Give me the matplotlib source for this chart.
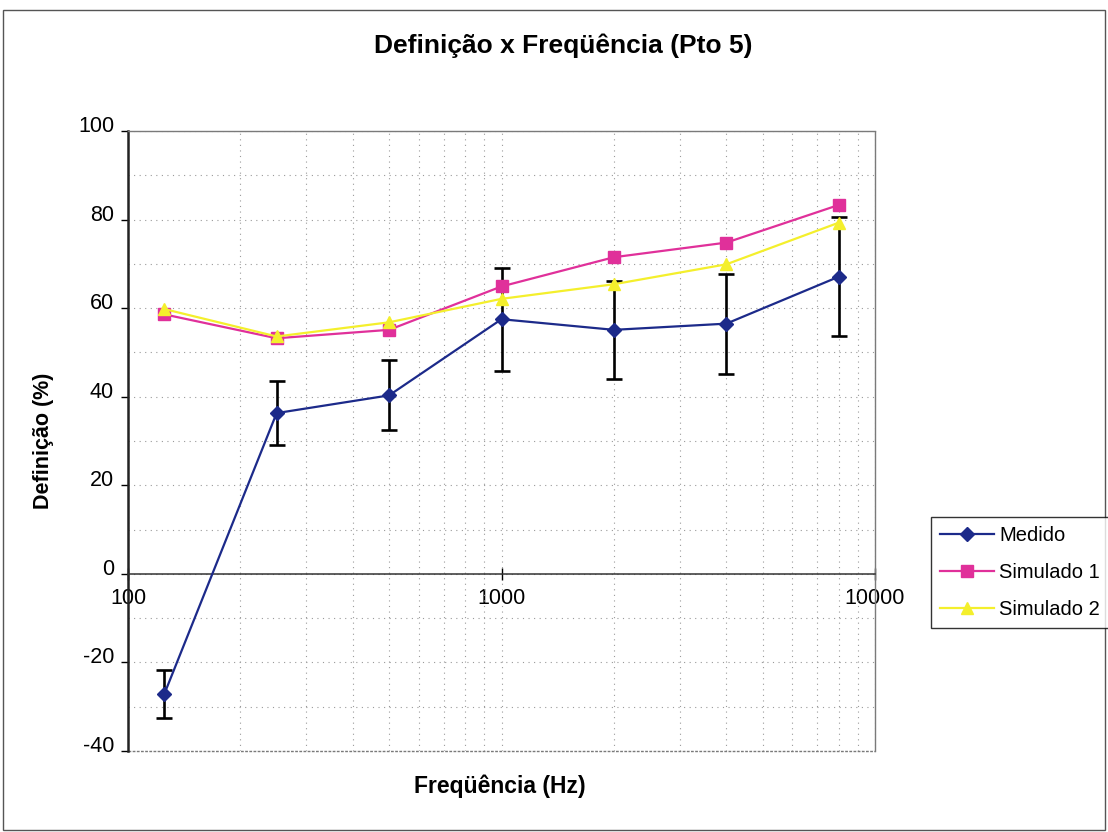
import matplotlib
matplotlib.use("Agg")
import matplotlib.pyplot as plt
from matplotlib.ticker import FixedLocator, MultipleLocator, LogLocator, FuncFormatter, NullFormatter
from matplotlib.patches import Rectangle
from matplotlib.transforms import ScaledTranslation

plt.rcParams['font.family'] = ['Liberation Sans', 'DejaVu Sans']
plt.rcParams['axes.unicode_minus'] = False

# Octave-band centre frequencies (Hz)
freqs = [125, 250, 500, 1000, 2000, 4000, 8000]

# Definition D50 (%) per band
medido = [-27.2, 36.3, 40.3, 57.5, 55.1, 56.5, 67.1]
medido_err = [5.4, 7.2, 7.9, 11.6, 11.1, 11.3, 13.5]
simulado1 = [58.6, 53.2, 55.1, 64.9, 71.5, 74.8, 83.3]
simulado2 = [59.8, 53.6, 56.8, 62.1, 65.4, 69.9, 79.3]

series_names = ["Medido", "Simulado 1", "Simulado 2"]
x_ticks = [100, 1000, 10000]
y_ticks = [-40, -20, 0, 20, 40, 60, 80, 100]

W, H = 1108, 832
fig = plt.figure(figsize=(W / 100, H / 100), dpi=100)
ax = fig.add_axes([128 / W, 1 - 751 / H, 747 / W, 620 / H])

c_med = "#1c2a8a"
c_s1 = "#e0309a"
c_s2 = "#f4ef2c"

ax.errorbar(freqs, medido, yerr=medido_err, fmt="none", ecolor="black",
            elinewidth=1.9, capsize=6, capthick=1.9, zorder=3)
l1, = ax.plot(freqs, medido, color=c_med, lw=1.6, marker="D", ms=7,
              mfc=c_med, mec=c_med, zorder=4, label=series_names[0])
l2, = ax.plot(freqs, simulado1, color=c_s1, lw=1.6, marker="s", ms=8,
              mfc=c_s1, mec=c_s1, zorder=5, label=series_names[1])
l3, = ax.plot(freqs, simulado2, color=c_s2, lw=1.6, marker="^", ms=9,
              mfc=c_s2, mec=c_s2, zorder=6, label=series_names[2])

ax.set_xscale("log")
ax.set_xlim(100, 10000)
ax.set_ylim(-40, 100)

ax.xaxis.set_major_locator(FixedLocator(x_ticks))
ax.xaxis.set_major_formatter(FuncFormatter(lambda v, p: f"{int(round(v))}"))
ax.xaxis.set_minor_locator(LogLocator(base=10, subs=range(2, 10)))
ax.xaxis.set_minor_formatter(NullFormatter())
ax.yaxis.set_major_locator(FixedLocator(y_ticks))
ax.yaxis.set_minor_locator(MultipleLocator(10))

ax.tick_params(axis="x", which="major", direction="inout", length=9,
               width=1.0, pad=6, labelsize=15.5)
ax.tick_params(axis="y", which="major", direction="out", length=5,
               width=1.0, pad=5, labelsize=15.5)
ax.tick_params(which="minor", length=0)

# value labels sit slightly above their tick marks
lift = ScaledTranslation(0, 5 / 72, fig.dpi_scale_trans)
for lbl in ax.get_yticklabels():
    lbl.set_transform(lbl.get_transform() + lift)

ax.grid(True, which="both", color="#9a9a9a", lw=0.8, ls=(0, (1, 4)), zorder=0)

# Category axis crosses at zero; frame drawn as grey dotted border
ax.spines["bottom"].set_position(("data", 0))
ax.spines["bottom"].set_linewidth(1.1)
ax.spines["bottom"].set_color("#333333")
ax.spines["left"].set_linewidth(1.8)
ax.spines["left"].set_color("#222222")
for s in ("top", "right"):
    ax.spines[s].set_color("#7a7a7a")
    ax.spines[s].set_linewidth(1.0)
    ax.spines[s].set_linestyle((0, (2, 1)))
ax.plot([0, 1], [0, 0], transform=ax.transAxes, color="#7a7a7a", lw=1.0,
        ls=(0, (2, 1)), clip_on=False, zorder=1)

fig.text(44 / W, 1 - 441 / H, "Definição (%)", rotation=90, ha="center",
         va="center", fontsize=15.5, fontweight="bold")
fig.text(500 / W, 1 - 786 / H, "Freqüência (Hz)", ha="center", va="center",
         fontsize=16.5, fontweight="bold")
fig.text(563 / W, 1 - 46 / H, "Definição x Freqüência (Pto 5)", ha="center",
         va="center", fontsize=19, fontweight="bold")

leg = fig.legend(handles=[l1, l2, l3], loc="upper left",
                 bbox_to_anchor=(931 / W, 1 - 517 / H), borderaxespad=0,
                 fontsize=14.5, frameon=True, fancybox=False, handlelength=2.7,
                 handletextpad=0.25, labelspacing=0.9, borderpad=0.45)
leg.get_frame().set_edgecolor("black")
leg.get_frame().set_linewidth(1.0)

# Chart-area border
fig.patches.append(Rectangle((3 / W, 2 / H), (W - 6) / W, (H - 12) / H,
                             transform=fig.transFigure, fill=False,
                             ec="#555555", lw=1.0))

fig.savefig("out.png", dpi=100)
